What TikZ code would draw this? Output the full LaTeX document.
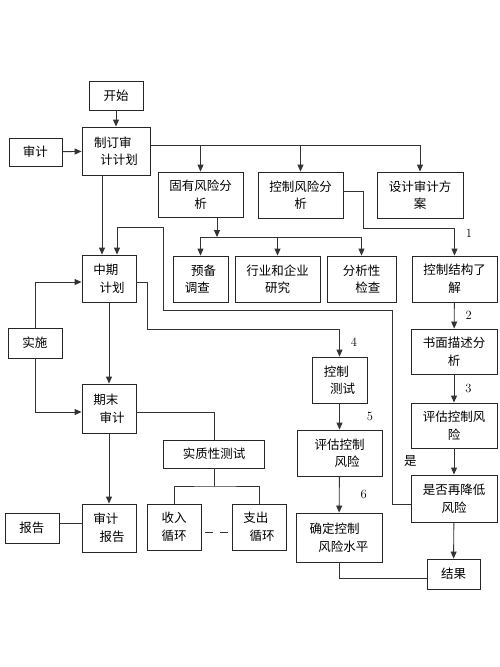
\documentclass[tikz,border=0pt]{standalone}
\usepackage{fontspec}
\newfontfamily\cjk{Noto Sans CJK SC}
\usetikzlibrary{arrows.meta}
\tikzset{
  box/.style={draw=black!85, line width=0.9pt, fill=white, inner sep=2pt,
    font=\cjk\fontsize{12.5}{17.5}\selectfont, align=center},
  sz/.style 2 args={minimum width=#1pt, minimum height=#2pt},
  link/.style={draw=black!80, line width=0.9pt},
  arr/.style={link, -{Triangle[length=7pt,width=6pt]}},
  num/.style={font=\fontsize{12.5}{14}\selectfont, inner sep=1pt},
  tag/.style={font=\cjk\fontsize{12.5}{15}\selectfont, inner sep=1pt},
}
\newcommand{\ind}{\hspace*{0.5em}}

\begin{document}
\begin{tikzpicture}[x=1pt,y=-1pt]
\fill[white] (0,0) rectangle (500,667);

\node[box, sz={54}{29}] (start) at (116,95.5) {开始};
\node[box, sz={53}{28}] (audit) at (35.5,152) {审计};
\node[box, sz={68}{48}, align=left] (plan) at (116,151) {制订审\\\ind 计计划};
\node[box, sz={85}{45}] (inherent) at (200.5,194.5) {固有风险分\\析};
\node[box, sz={85}{46}] (ctrlrisk) at (300.5,195) {控制风险分\\析};
\node[box, sz={86}{46}] (design) at (420,195) {设计审计方\\案};
\node[box, sz={55}{46}, align=left] (prelim) at (200.5,279) {\ind 预备\\调查};
\node[box, sz={85}{46}] (industry) at (277.5,279) {行业和企业\\研究};
\node[box, sz={69}{46}, align=right] (analytic) at (361.5,279) {分析性\\检查};
\node[box, sz={85}{46}] (ctrlstruct) at (454.5,279) {控制结构了\\解};
\node[box, sz={54}{47}, align=left] (interim) at (109,278.5) {中期\\\ind 计划};
\node[box, sz={54}{30}] (impl) at (35,343) {实施};
\node[box, sz={54}{49}, align=left] (final) at (109,408.5) {期末\\\ind 审计};
\node[box, sz={54}{48}, align=left] (report) at (109,528) {审计\\\ind 报告};
\node[box, sz={54}{30}] (rep) at (32,528) {报告};
\node[box, sz={101}{28}] (subst) at (214,454) {实质性测试};
\node[box, sz={54}{46}, align=left] (income) at (174,527) {收入\\循环};
\node[box, sz={54}{46}, align=left] (expense) at (259,527) {支出\\\ind 循环};
\node[box, sz={55}{46}, align=left] (ctest) at (339.5,380) {控制\\\ind 测试};
\node[box, sz={85}{46}, align=left] (evalL) at (339.5,453) {评估控制\\\hspace*{1.6em}风险};
\node[box, sz={86}{45}] (written) at (454,351.5) {书面描述分\\析};
\node[box, sz={86}{45}] (evalR) at (454,425.5) {评估控制风\\险};
\node[box, sz={86}{47}] (reduce) at (454,498.5) {是否再降低\\风险};
\node[box, sz={86}{49}, align=left] (fix) at (339,537.5) {确定控制\\\hspace*{0.7em}风险水平};
\node[box, sz={53}{30}] (result) at (453.5,574) {结果};

\coordinate (topbus) at (420,145);
\coordinate (ibus) at (217,237);
\coordinate (cbend) at (363,228);
\coordinate (loopA) at (392,310);
\coordinate (loopB) at (163,227);
\coordinate (tbend) at (147,329);
\coordinate (sbus) at (214,486);

\draw[arr] (start) -- (plan);
\draw[arr] (audit) -- (plan);
\draw[link] ([yshift=6pt]plan.east) -- (topbus);
\draw[arr] (topbus) -- (design);
\draw[arr] (inherent.north |- topbus) -- (inherent);
\draw[arr] (ctrlrisk.north |- topbus) -- (ctrlrisk);
\draw[arr] (inherent.south -| ibus) -- (ibus);
\draw[arr] (ibus) -| (prelim.north);
\draw[arr] (ibus) -| (industry.north);
\draw[arr] (ibus) -| (analytic.north);
\draw[arr] ([yshift=4pt]ctrlrisk.east) -| (cbend) -| node[num, pos=0.6, right=10pt] {1} (ctrlstruct.north);
\draw[arr] ([xshift=-7pt]interim.north |- plan.south) -- ([xshift=-7pt]interim.north);
\draw[arr] ([yshift=-5.5pt]reduce.west) -| (loopA) -| (loopB) -| ([xshift=8pt]interim.north);
\draw[arr] ([yshift=-3.5pt]interim.east) -| (tbend) -| node[num, pos=0.75, right=10pt] {4} (ctest.north);
\draw[arr] (interim) -- (final);
\draw[arr] (impl.north) |- ([yshift=-3.5pt]interim.west);
\draw[arr] (impl.south) |- ([yshift=-3.5pt]final.west);
\draw[link] ([yshift=-3.5pt]final.east) -| (subst.north);
\draw[link] (subst.south) -- (sbus);
\draw[link] (income.north) |- (sbus) -| (expense.north);
\draw[arr] (final) -- (report);
\draw[link] ([yshift=5pt]rep.east) -- ([yshift=5pt]report.west);
\draw[link, dash pattern=on 8pt off 7pt, dash phase=11pt] ([yshift=-5pt]income.east) -- ([yshift=-5pt]expense.west);
\draw[arr] (ctrlstruct) -- node[num, right=10pt] {2} (written);
\draw[arr] (written) -- node[num, right=10pt] {3} (evalR);
\draw[arr] (evalR) -- node[tag, left=36pt] {是} (reduce);
\draw[arr] (reduce) -- (result);
\draw[arr] (ctest) -- node[num, right=26pt] {5} (evalL);
\draw[arr] (evalL) -- node[num, right=20pt] {6} (fix);
\draw[link] (fix.south) |- ([yshift=-4pt]result.west);
\end{tikzpicture}
\end{document}
